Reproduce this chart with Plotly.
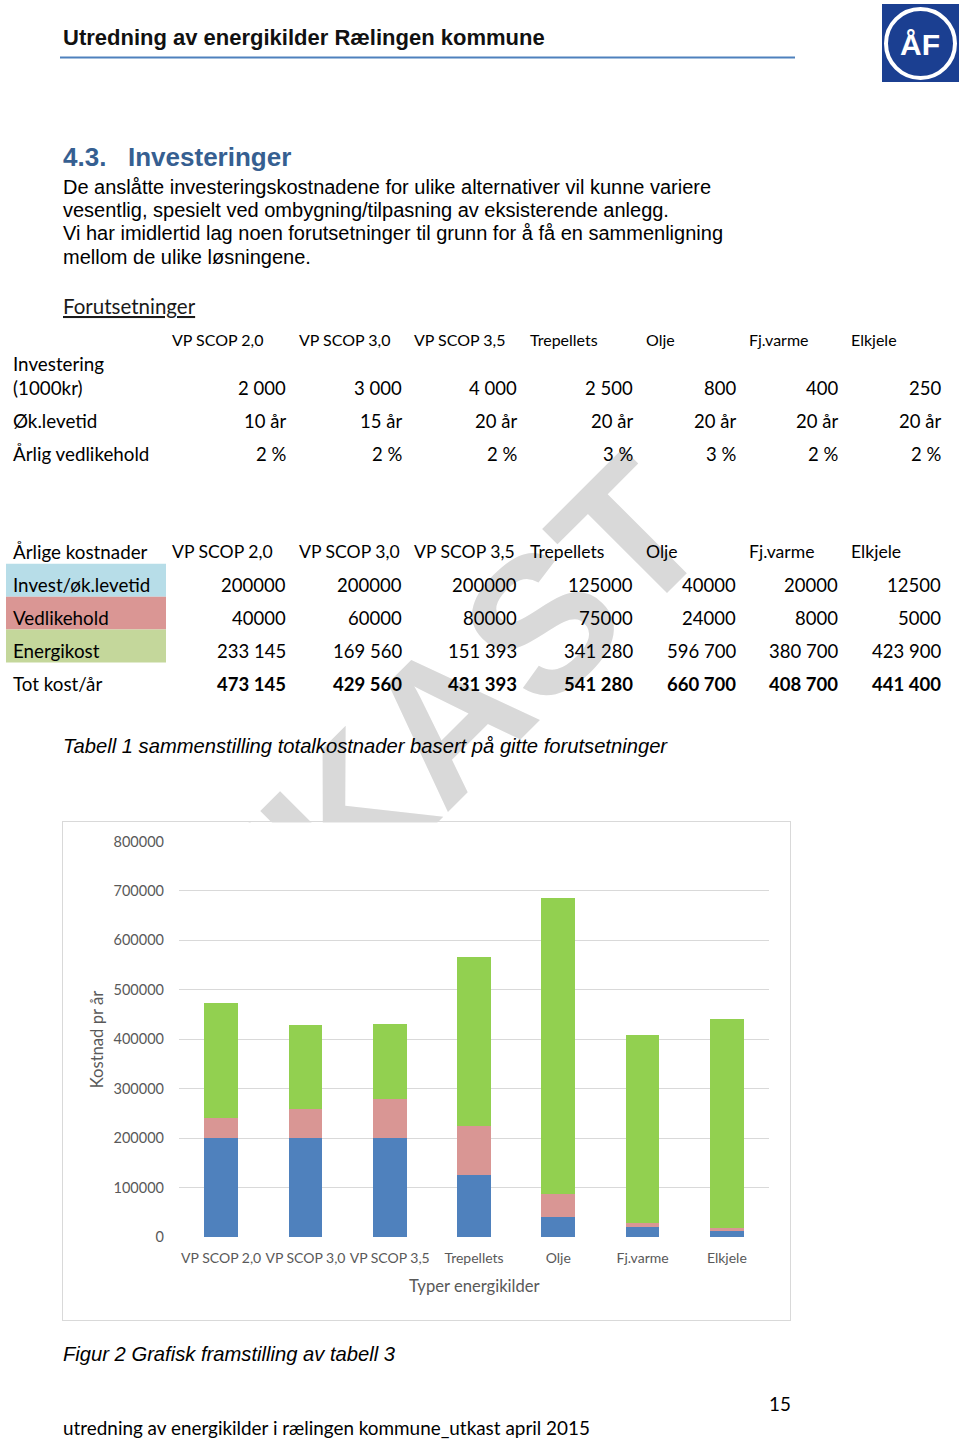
import plotly.graph_objects as go

W = 960
SHOT_SCALE = 1439 / 1455      # vertical scale seen in the rendered screenshot
SHOT_OFFSET = 8 * SHOT_SCALE  # vertical offset seen in the rendered screenshot
H = 1447                      # figure height in page pixels


def page_y(y_ref):
    """Convert a y position in the reference picture to a page pixel."""
    return (y_ref - SHOT_OFFSET) / SHOT_SCALE


# ---------------- data ----------------
categories = ["VP SCOP 2,0", "VP SCOP 3,0", "VP SCOP 3,5", "Trepellets", "Olje", "Fj.varme", "Elkjele"]
invest_per_year = [200000, 200000, 200000, 125000, 40000, 20000, 12500]
vedlikehold_chart = [40000, 60000, 80000, 100000, 48000, 8000, 5000]
energikost = [233145, 169560, 151393, 341280, 596700, 380700, 423900]

t1_investering = ["2 000", "3 000", "4 000", "2 500", "800", "400", "250"]
t1_levetid = ["10 år", "15 år", "20 år", "20 år", "20 år", "20 år", "20 år"]
t1_vedlikehold = ["2 %", "2 %", "2 %", "3 %", "3 %", "2 %", "2 %"]

t2_invest = ["200000", "200000", "200000", "125000", "40000", "20000", "12500"]
t2_vedlikehold = ["40000", "60000", "80000", "75000", "24000", "8000", "5000"]
t2_energi = ["233 145", "169 560", "151 393", "341 280", "596 700", "380 700", "423 900"]
t2_total = ["473 145", "429 560", "431 393", "541 280", "660 700", "408 700", "441 400"]

y_ticks = [0, 100000, 200000, 300000, 400000, 500000, 600000, 700000, 800000]

paragraph = [
    "De anslåtte investeringskostnadene for ulike alternativer vil kunne variere",
    "vesentlig, spesielt ved ombygning/tilpasning av eksisterende anlegg.",
    "Vi har imidlertid lag noen forutsetninger til grunn for å få en sammenligning",
    "mellom de ulike løsningene.",
]

# ---------------- styling ----------------
ARIAL = "Liberation Sans, Arial, sans-serif"
CALIBRI = "Lato, Carlito, Calibri, sans-serif"
C_BLUE = "#4f81bd"
C_RED = "#d99694"
C_GREEN = "#92d050"
GRAY_TXT = "#595959"
GRID = "#d9d9d9"

col_left = [172, 299, 414, 530, 646, 749, 851]
col_right = [286, 402, 517, 633, 736, 838, 941]


def px(x):
    return x / W


def py(y):
    return 1 - page_y(y) / H


annotations = []


def txt(text, x, y, size, family=CALIBRI, color="#000000", xanchor="left",
        weight="normal", style="normal", angle=0):
    annotations.append(dict(
        text=text, x=px(x), y=py(y), xref="paper", yref="paper",
        xanchor=xanchor, yanchor="middle", showarrow=False, textangle=angle,
        borderpad=0, borderwidth=0,
        font=dict(size=size, family=family, color=color, weight=weight, style=style),
    ))


fig = go.Figure()

# watermark (page-sized subplot, hidden axes)
wm_font = dict(size=194, family=ARIAL, color="#d9d9d9", weight="bold")
fig.add_trace(go.Bar(
    x=[393], y=[4], base=[page_y(771) - 2], width=[4], xaxis="x", yaxis="y",
    marker=dict(color="rgba(0,0,0,0)", line=dict(width=0)),
    text=["UTKAST"], textposition="inside", insidetextanchor="middle",
    textangle=-45, constraintext="none", cliponaxis=False,
    insidetextfont=wm_font, textfont=wm_font,
    hoverinfo="skip", showlegend=False,
))

# chart frame subplot (white box that hides the watermark)
fig.add_trace(go.Scatter(x=[0], y=[0], xaxis="x2", yaxis="y2", mode="markers",
                         marker=dict(opacity=0), hoverinfo="skip", showlegend=False))

# stacked bars
for name, vals, col in [("Invest/øk.levetid", invest_per_year, C_BLUE),
                        ("Vedlikehold", vedlikehold_chart, C_RED),
                        ("Energikost", energikost, C_GREEN)]:
    fig.add_trace(go.Bar(x=categories, y=vals, name=name, marker=dict(color=col, line=dict(width=0)),
                         xaxis="x3", yaxis="y3", showlegend=False, hoverinfo="x+y+name"))

# ---------------- page text ----------------
txt("Utredning av energikilder Rælingen kommune", 63, 36, 22, ARIAL, "#111111", weight="bold")
txt("4.3.", 63, 156, 26, ARIAL, "#365f91", weight="bold")
txt("Investeringer", 128, 156, 26, ARIAL, "#365f91", weight="bold")
for i, line in enumerate(paragraph):
    txt(line, 63, [186, 209, 232, 256][i], 20, ARIAL, "#000000")

txt("<u>Forutsetninger</u>", 63, 305, 20.5, CALIBRI, "#1a1a1a")

# table 1
for i, c in enumerate(categories):
    txt(c, col_left[i], 339, 16, CALIBRI)
txt("Investering", 13, 363, 18.8, CALIBRI)
txt("(1000kr)", 13, 387, 18.8, CALIBRI)
txt("Øk.levetid", 13, 420, 18.8, CALIBRI)
txt("Årlig vedlikehold", 13, 453, 18.8, CALIBRI)
for i in range(7):
    txt(t1_investering[i], col_right[i], 387, 18.5, CALIBRI, xanchor="right")
    txt(t1_levetid[i], col_right[i], 420, 18.5, CALIBRI, xanchor="right")
    txt(t1_vedlikehold[i], col_right[i], 453, 18.5, CALIBRI, xanchor="right")

# table 2
txt("Årlige kostnader", 13, 551, 18.8, CALIBRI)
for i, c in enumerate(categories):
    txt(c, col_left[i], 551, 17.6, CALIBRI)
txt("Invest/øk.levetid", 13, 584, 18.8, CALIBRI)
txt("Vedlikehold", 13, 617, 18.8, CALIBRI)
txt("Energikost", 13, 650, 18.8, CALIBRI)
txt("Tot kost/år", 13, 683, 18.8, CALIBRI)
for i in range(7):
    txt(t2_invest[i], col_right[i], 584, 18.5, CALIBRI, xanchor="right")
    txt(t2_vedlikehold[i], col_right[i], 617, 18.5, CALIBRI, xanchor="right")
    txt(t2_energi[i], col_right[i], 650, 18.5, CALIBRI, xanchor="right")
    txt(t2_total[i], col_right[i], 683, 18.5, CALIBRI, xanchor="right", weight="bold")

txt("Tabell 1 sammenstilling totalkostnader basert på gitte forutsetninger", 63, 745, 20.2, ARIAL,
    style="italic")

# chart titles
txt("Typer energikilder", 474, 1286, 16.6, CALIBRI, GRAY_TXT, xanchor="center")
txt("Kostnad pr år", 97, 1040, 16.6, CALIBRI, GRAY_TXT, xanchor="center", angle=-90)

txt("Figur 2 Grafisk framstilling av tabell 3", 63, 1354, 20.2, ARIAL, style="italic")
txt("15", 791, 1403, 18.8, CALIBRI, xanchor="right")
txt("utredning av energikilder i rælingen kommune_utkast april 2015", 63, 1427, 18.9, CALIBRI)

# logo text
txt("ÅF", 920, 43, 30, ARIAL, "#ffffff", xanchor="center", weight="bold")

# ---------------- shapes ----------------
shapes = [
    dict(type="line", xref="paper", yref="paper", x0=px(60), x1=px(795), y0=py(56.5), y1=py(56.5),
         line=dict(color="#4f81bd", width=2), layer="below"),
    dict(type="rect", xref="paper", yref="paper", x0=px(882), x1=px(959), y0=py(3), y1=py(81),
         fillcolor="#1b3f91", line=dict(width=0), layer="below"),
    dict(type="circle", xref="paper", yref="paper", x0=px(886), x1=px(955), y0=py(8), y1=py(77),
         fillcolor="rgba(0,0,0,0)", line=dict(color="#ffffff", width=4), layer="below"),
    dict(type="rect", xref="paper", yref="paper", x0=px(6), x1=px(166), y0=py(563), y1=py(596),
         fillcolor="#b7dde8", line=dict(width=0), layer="below"),
    dict(type="rect", xref="paper", yref="paper", x0=px(6), x1=px(166), y0=py(596), y1=py(629),
         fillcolor="#da9694", line=dict(width=0), layer="below"),
    dict(type="rect", xref="paper", yref="paper", x0=px(6), x1=px(166), y0=py(629), y1=py(662),
         fillcolor="#c4d79b", line=dict(width=0), layer="below"),
]

hidden = dict(visible=False, showgrid=False, zeroline=False, fixedrange=True)

fig.update_layout(
    width=W, height=H,
    margin=dict(l=0, r=0, t=0, b=0),
    paper_bgcolor="#ffffff", plot_bgcolor="#ffffff",
    barmode="stack", bargap=0.6,
    showlegend=False,
    xaxis=dict(domain=[0, 1], range=[0, W], anchor="y", **hidden),
    yaxis=dict(domain=[0, 1], range=[H, 0], anchor="x", **hidden),
    xaxis2=dict(domain=[px(63), px(790)], range=[0, 1], anchor="y2", showline=True, mirror=True,
                linecolor=GRID, linewidth=1, showticklabels=False, showgrid=False, zeroline=False,
                ticks="", fixedrange=True),
    yaxis2=dict(domain=[py(1320), py(822)], range=[0, 1], anchor="x2", showline=True, mirror=True,
                linecolor=GRID, linewidth=1, showticklabels=False, showgrid=False, zeroline=False,
                ticks="", fixedrange=True),
    xaxis3=dict(domain=[px(179), px(769)], anchor="y3", showgrid=False, zeroline=False, showline=False,
                ticks="", tickangle=0, tickfont=dict(family=CALIBRI, size=14, color=GRAY_TXT),
                ticklabelstandoff=11),
    yaxis3=dict(domain=[py(1237), py(841)], anchor="x3", range=[0, 800000], tickvals=y_ticks,
                ticktext=[str(v) for v in y_ticks], showgrid=True, gridcolor=GRID, gridwidth=1,
                zeroline=False, showline=False, ticks="",
                tickfont=dict(family=CALIBRI, size=14.5, color=GRAY_TXT), ticklabelstandoff=14),
    annotations=annotations,
    shapes=shapes,
)

fig.write_html(
    "out.html",
    config={"displayModeBar": False},
    post_script="document.body.style.margin='0';document.documentElement.style.overflow='hidden';",
)
